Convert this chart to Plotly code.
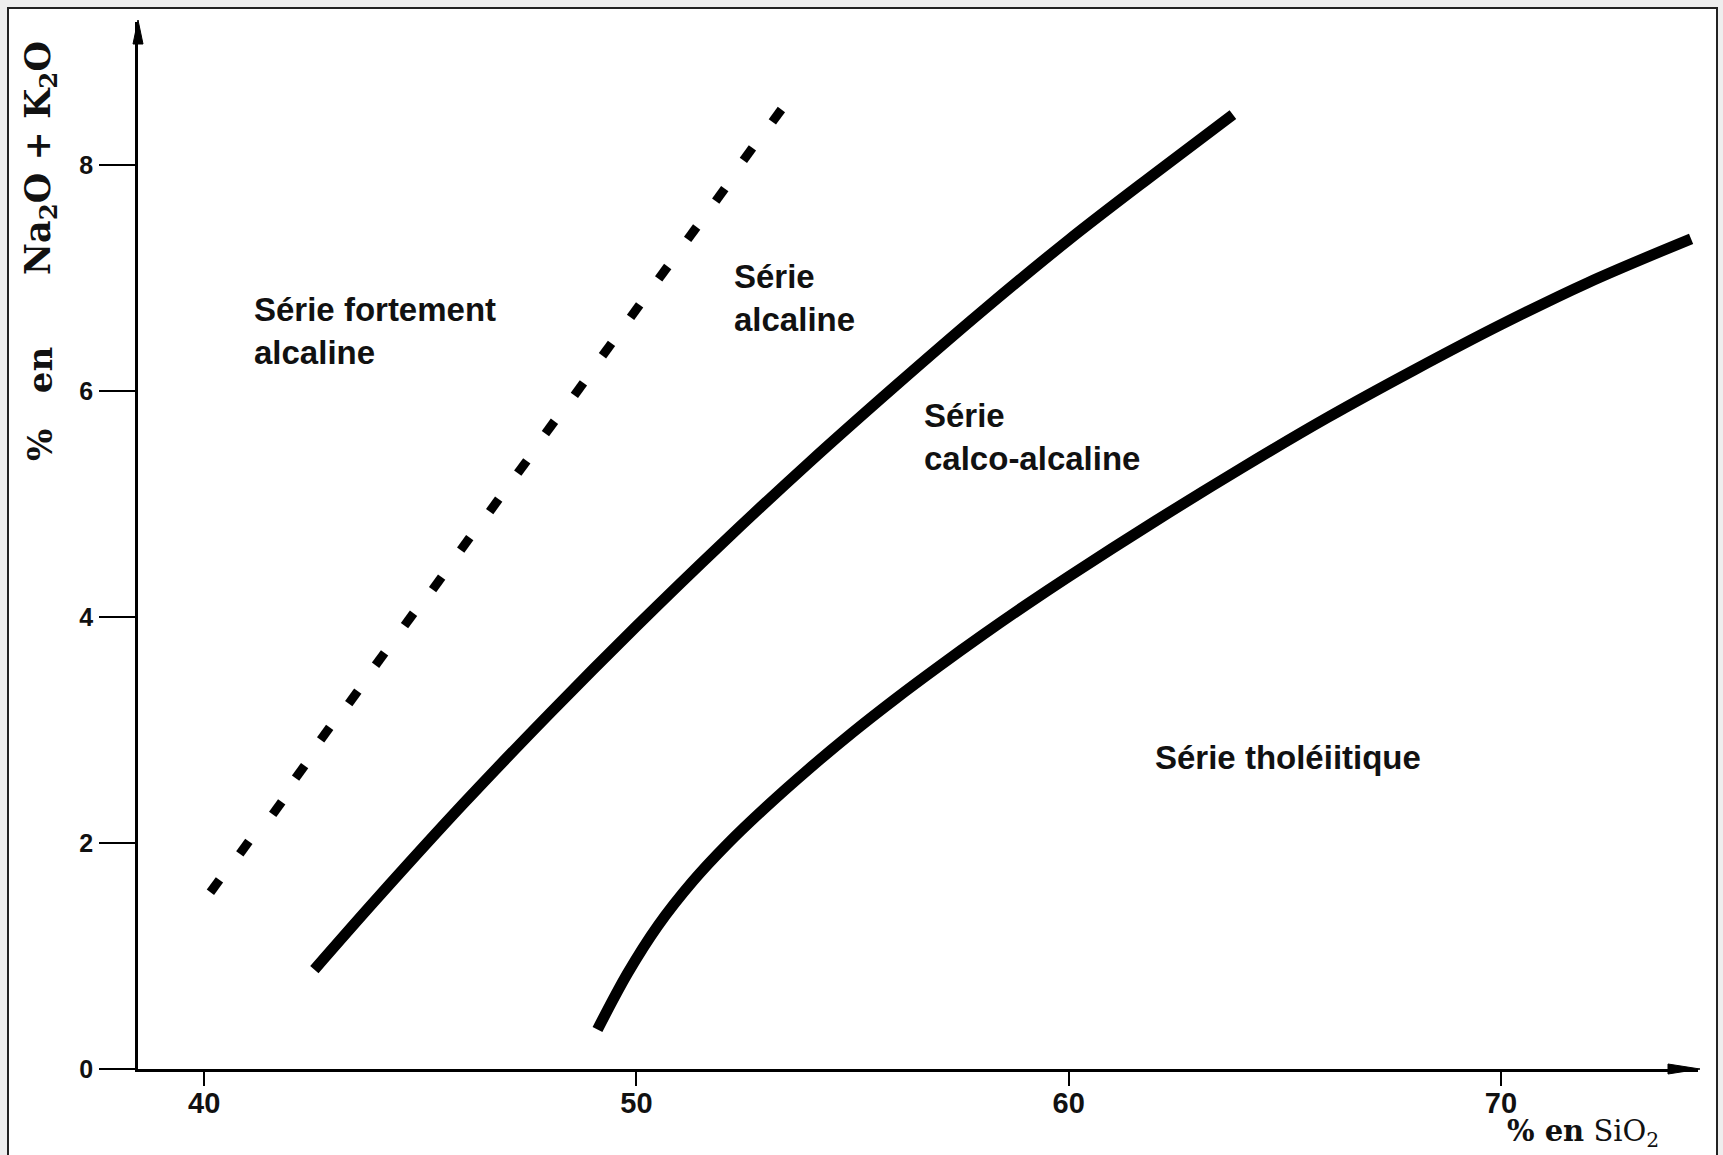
import plotly.graph_objects as go

# --- data: SiO2 (%) against Na2O + K2O (%) ---------------------------------
# dotted boundary: strongly alkaline / alkaline series
dotted_sio2 = [40.25, 40.93, 41.69, 42.22, 42.80, 43.45, 44.07, 44.74, 45.39, 46.04, 46.71,
               47.36, 48.00, 48.67, 49.32, 49.97, 50.62, 51.29, 51.94, 52.58, 53.25]
dotted_alk = [1.62, 1.96, 2.31, 2.63, 2.97, 3.29, 3.63, 3.98, 4.30, 4.65, 4.99,
              5.33, 5.68, 6.02, 6.37, 6.71, 7.05, 7.40, 7.74, 8.10, 8.44]

# solid boundary: alkaline / calc-alkaline series
alc_sio2 = [42.55, 44.0, 46.0, 48.0, 50.0, 52.0, 54.0, 56.0, 58.0, 60.0, 62.0, 63.8]
alc_alk = [0.88, 1.51, 2.35, 3.15, 3.92, 4.66, 5.37, 6.05, 6.71, 7.34, 7.93, 8.45]

# solid boundary: calc-alkaline / tholeiitic series
thol_sio2 = [49.1, 49.8, 50.5, 51.3, 52.1, 53.0, 54.0, 55.0, 56.0, 57.0, 58.0, 59.0,
             60.0, 62.0, 64.0, 66.0, 68.0, 70.0, 72.0, 74.4]
thol_alk = [0.35, 0.85, 1.27, 1.66, 1.99, 2.32, 2.66, 2.98, 3.28, 3.565, 3.84, 4.105,
            4.36, 4.85, 5.32, 5.77, 6.19, 6.59, 6.96, 7.35]

x_ticks = [40, 50, 60, 70]
y_ticks = [0, 2, 4, 6, 8]

# series names written inside each field: (text, SiO2, alkalis)
field_labels = ["Série fortement<br>alcaline", "Série<br>alcaline",
                "Série<br>calco-alcaline", "Série tholéiitique"]
field_sio2 = [41.11, 52.21, 56.61, 61.95]
field_alk = [6.53, 6.83, 5.60, 2.76]

# --- layout geometry ---------------------------------------------------------
W, H = 1723, 1155
ML, MR, MT, MB = 138, 25, 22, 86
X_RANGE = [38.47, 74.56]
Y_RANGE = [0.0, 9.27]
PW, PH = W - ML - MR, H - MT - MB


def px_to_paper_x(px):
    return (px - ML) / PW


def px_to_paper_y(py):
    return (H - MB - py) / PH


fig = go.Figure()

fig.add_trace(go.Scatter(
    x=dotted_sio2, y=dotted_alk, mode="markers",
    marker=dict(symbol="line-ns", size=11, angle=36, color="black",
                line=dict(width=9, color="black")),
    hoverinfo="skip", showlegend=False, cliponaxis=False))

fig.add_trace(go.Scatter(
    x=alc_sio2, y=alc_alk, mode="lines",
    line=dict(color="black", width=11, shape="spline", smoothing=1.0),
    hoverinfo="skip", showlegend=False))

fig.add_trace(go.Scatter(
    x=thol_sio2, y=thol_alk, mode="lines",
    line=dict(color="black", width=11, shape="spline", smoothing=1.0),
    hoverinfo="skip", showlegend=False))

label_font = dict(family="Liberation Sans, Arial, sans-serif", size=33, color="#111111")
for txt, sx, sy in zip(field_labels, field_sio2, field_alk):
    fig.add_annotation(x=sx, y=sy, xref="x", yref="y", text="<b>" + txt + "</b>",
                       showarrow=False, xanchor="left", yanchor="middle", align="left",
                       font=label_font)

# axis titles
serif = "DejaVu Serif, Liberation Serif, serif"
fig.add_annotation(x=px_to_paper_x(40), y=px_to_paper_y(404), xref="paper", yref="paper",
                   text="<b>%&nbsp;&nbsp; en</b>", textangle=-90, showarrow=False,
                   xanchor="center", yanchor="middle",
                   font=dict(family=serif, size=34, color="#111111"))
fig.add_annotation(x=px_to_paper_x(40), y=px_to_paper_y(158), xref="paper", yref="paper",
                   text="<b>Na<sub>2</sub>O + K<sub>2</sub>O</b>", textangle=-90,
                   showarrow=False, xanchor="center", yanchor="middle",
                   font=dict(family=serif, size=35, color="#111111"))
fig.add_annotation(x=px_to_paper_x(1583), y=px_to_paper_y(1133), xref="paper", yref="paper",
                   text="<b>% en</b> SiO<sub>2</sub>", showarrow=False,
                   xanchor="center", yanchor="middle",
                   font=dict(family=serif, size=29, color="#111111"))

# outer frame of the figure
fig.add_shape(type="rect", xref="paper", yref="paper", layer="below",
              x0=px_to_paper_x(8), x1=px_to_paper_x(1717),
              y0=px_to_paper_y(H + 10), y1=px_to_paper_y(8),
              fillcolor="white", line=dict(color="#222222", width=2))

# arrow heads at the ends of both axes
fig.add_shape(type="path", xref="paper", yref="paper", xsizemode="pixel", ysizemode="pixel",
              xanchor=1, yanchor=0, path="M2,0 L-30,5 L-30,-5 Z",
              fillcolor="black", line=dict(color="black", width=1))
fig.add_shape(type="path", xref="paper", yref="paper", xsizemode="pixel", ysizemode="pixel",
              xanchor=0, yanchor=1, path="M0,2 L-5,-22 L5,-22 Z",
              fillcolor="black", line=dict(color="black", width=1))

tick_font_x = dict(family="Liberation Sans, Arial, sans-serif", size=29, color="#111111")
tick_font_y = dict(family="Liberation Sans, Arial, sans-serif", size=25, color="#111111")

fig.update_layout(
    width=W, height=H,
    margin=dict(l=ML, r=MR, t=MT, b=MB, pad=0),
    paper_bgcolor="#eeeeee", plot_bgcolor="rgba(0,0,0,0)",
    showlegend=False,
    xaxis=dict(range=X_RANGE, tickvals=x_ticks, ticktext=["<b>%d</b>" % v for v in x_ticks],
               showline=True, linecolor="black", linewidth=2.5,
               ticks="outside", ticklen=14, tickwidth=2, tickcolor="black",
               ticklabelstandoff=-8,
               showgrid=False, zeroline=False, tickfont=tick_font_x, fixedrange=True),
    yaxis=dict(range=Y_RANGE, tickvals=y_ticks, ticktext=["<b>%d</b>" % v for v in y_ticks],
               showline=True, linecolor="black", linewidth=2.5,
               ticks="outside", ticklen=36, tickwidth=2, tickcolor="black",
               ticklabelstandoff=1,
               showgrid=False, zeroline=False, tickfont=tick_font_y, fixedrange=True),
)

fig.write_html("out.html")
